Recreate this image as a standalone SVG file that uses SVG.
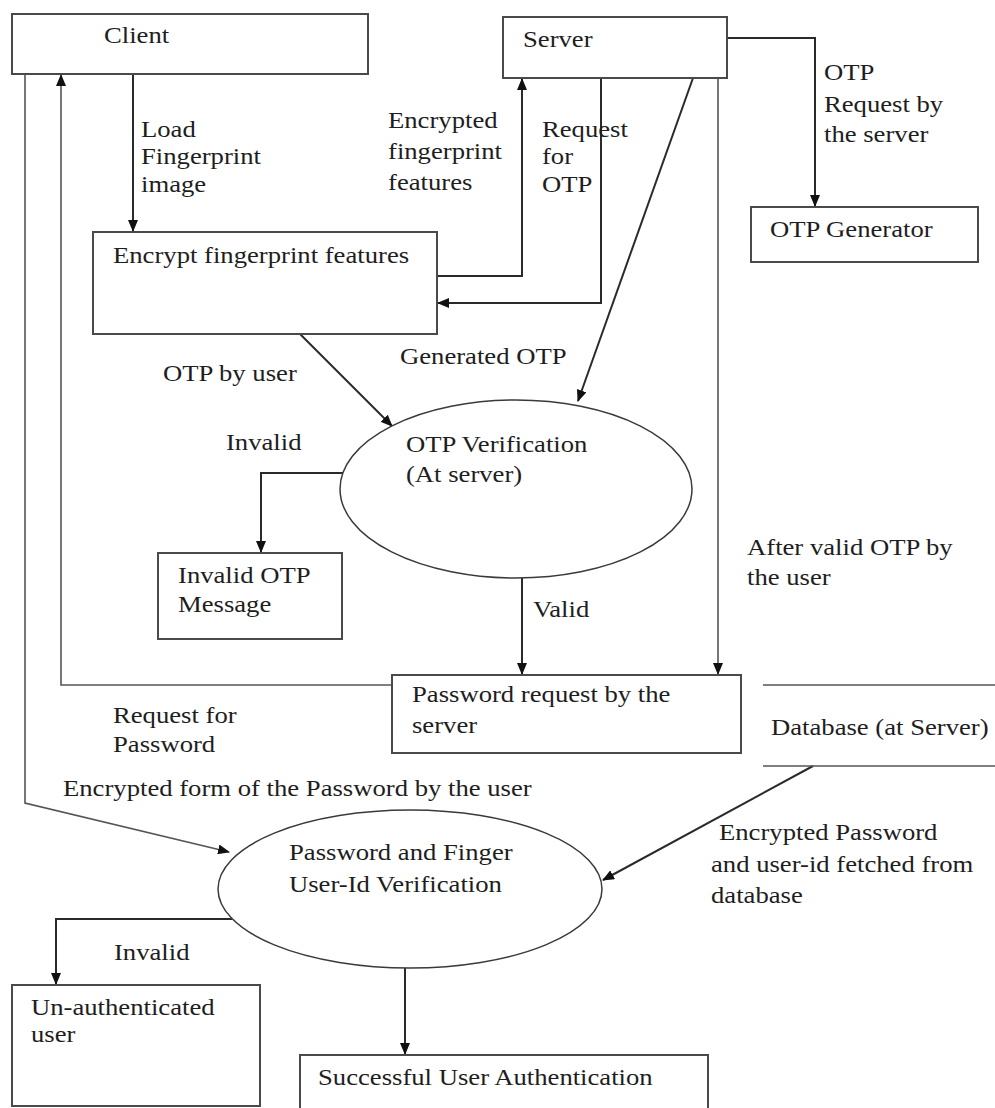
<svg xmlns="http://www.w3.org/2000/svg" width="995" height="1108" viewBox="0 0 995 1108">
<style>
  .box { fill: #ffffff; stroke: #4a4a4a; stroke-width: 2; }
  .ell { fill: #ffffff; stroke: #3a3a3a; stroke-width: 1.5; }
  .ln { fill: none; stroke: #2a2a2a; stroke-width: 2; }
  .ln2 { fill: none; stroke: #555555; stroke-width: 1.6; }
  text { font-size: 23px; fill: #1e1e1e;
         transform-box: fill-box; transform-origin: 0 0; transform: scaleX(1.16); }
</style>
<defs>
  <marker id="arr" markerWidth="12" markerHeight="10" refX="11" refY="5" orient="auto" markerUnits="userSpaceOnUse">
    <path d="M0,0 L12,5 L0,10 Z" fill="#111111"/>
  </marker>
</defs>
<rect width="995" height="1108" fill="#ffffff"/>

<g id="connectors">
  <path class="ln" d="M133,74 V231" marker-end="url(#arr)"/>
  <path class="ln2" d="M392,685 H61 V75" marker-end="url(#arr)"/>
  <path class="ln2" d="M25,74 V803 L229,852" marker-end="url(#arr)"/>
  <path class="ln" d="M437,276 H522 V79" marker-end="url(#arr)"/>
  <path class="ln" d="M601,78 V303 H438" marker-end="url(#arr)"/>
  <path class="ln" d="M693,78 L578,401" marker-end="url(#arr)"/>
  <path class="ln2" d="M718,78 V674" marker-end="url(#arr)"/>
  <path class="ln" d="M727,38 H815 V206" marker-end="url(#arr)"/>
  <path class="ln" d="M300,334 L392,426" marker-end="url(#arr)"/>
  <path class="ln" d="M343,473 H261 V552" marker-end="url(#arr)"/>
  <path class="ln" d="M522,578 V674" marker-end="url(#arr)"/>
  <path class="ln" d="M813,766 L603,880" marker-end="url(#arr)"/>
  <path class="ln" d="M232,919 H56 V984" marker-end="url(#arr)"/>
  <path class="ln" d="M405,968 V1054" marker-end="url(#arr)"/>
</g>

<g font-family="'Liberation Serif', 'DejaVu Serif', serif">
<g id="client">
  <rect class="box" x="12" y="14" width="356" height="60"/>
  <text x="104" y="43">Client</text>
</g>
<g id="server">
  <rect class="box" x="503" y="17" width="224" height="61"/>
  <text x="523" y="47">Server</text>
</g>
<g id="otp-generator">
  <rect class="box" x="751" y="207" width="227" height="55"/>
  <text x="770" y="237">OTP Generator</text>
</g>
<g id="encrypt">
  <rect class="box" x="93" y="232" width="344" height="102"/>
  <text x="113" y="263">Encrypt fingerprint features</text>
</g>
<g id="otp-verification">
  <ellipse class="ell" cx="516" cy="489" rx="176" ry="89"/>
  <text x="406" y="452">OTP Verification</text>
  <text x="406" y="482">(At server)</text>
</g>
<g id="invalid-otp">
  <rect class="box" x="158" y="553" width="184" height="86"/>
  <text x="178" y="583">Invalid OTP</text>
  <text x="178" y="612">Message</text>
</g>
<g id="password-request">
  <rect class="box" x="392" y="675" width="349" height="78"/>
  <text x="412" y="702">Password request by the</text>
  <text x="412" y="733">server</text>
</g>
<g id="database">
  <line class="ln2" x1="763" y1="685" x2="995" y2="685"/>
  <line class="ln2" x1="763" y1="766" x2="995" y2="766"/>
  <text x="771" y="735">Database (at Server)</text>
</g>
<g id="password-verification">
  <ellipse class="ell" cx="410" cy="889" rx="192" ry="79"/>
  <text x="289" y="860">Password and Finger</text>
  <text x="289" y="892">User-Id Verification</text>
</g>
<g id="unauthenticated">
  <rect class="box" x="12" y="985" width="248" height="121"/>
  <text x="31" y="1015">Un-authenticated</text>
  <text x="31" y="1042">user</text>
</g>
<g id="success">
  <rect class="box" x="300" y="1055" width="408" height="70"/>
  <text x="318" y="1085">Successful User Authentication</text>
</g>

<g id="labels">
  <text x="141" y="137">Load</text>
  <text x="141" y="164">Fingerprint</text>
  <text x="141" y="192">image</text>
  <text x="388" y="128">Encrypted</text>
  <text x="388" y="159">fingerprint</text>
  <text x="388" y="190">features</text>
  <text x="542" y="137">Request</text>
  <text x="542" y="164">for</text>
  <text x="542" y="192">OTP</text>
  <text x="824" y="80">OTP</text>
  <text x="824" y="112">Request by</text>
  <text x="824" y="142">the server</text>
  <text x="400" y="364">Generated OTP</text>
  <text x="163" y="381">OTP by user</text>
  <text x="226" y="450">Invalid</text>
  <text x="533" y="617">Valid</text>
  <text x="747" y="555">After valid OTP by</text>
  <text x="747" y="585">the user</text>
  <text x="113" y="723">Request for</text>
  <text x="113" y="752">Password</text>
  <text x="63" y="796">Encrypted form of the Password by the user</text>
  <text x="719" y="840">Encrypted Password</text>
  <text x="711" y="872">and user-id fetched from</text>
  <text x="711" y="903">database</text>
  <text x="114" y="960">Invalid</text>
</g>
</g>
</svg>
